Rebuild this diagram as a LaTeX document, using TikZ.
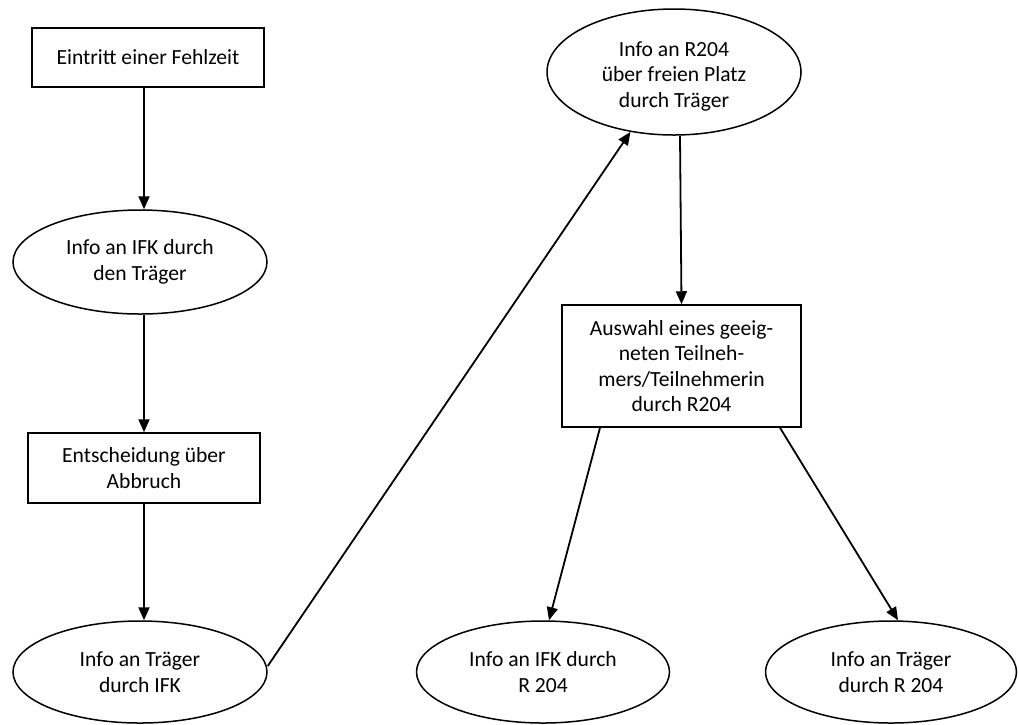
\documentclass[tikz,border=0pt]{standalone}
\usepackage{fontspec}
\setmainfont{Carlito}
\usetikzlibrary{shapes.geometric,arrows.meta}
\begin{document}
\begin{tikzpicture}[x=1pt,y=-1pt,
  every node/.style={font=\fontsize{21.6}{25.5}\selectfont, align=center, inner sep=0pt},
  boxnode/.style={draw, line width=1.5pt, rectangle},
  ellnode/.style={draw, line width=1.5pt, ellipse},
  conn/.style={line width=1.8pt, -{Triangle[length=13pt,width=11pt]}}]
\useasboundingbox (0,0) rectangle (1019,724);
\node[boxnode, minimum width=232pt, minimum height=59pt] (b1) at (148,57.5) {Eintritt einer Fehlzeit};
\node[ellnode, minimum width=254pt, minimum height=104pt] (e2) at (140,262) {Info an IFK durch\\den Träger};
\node[boxnode, minimum width=232pt, minimum height=70pt] (b3) at (144,468) {Entscheidung über\\Abbruch};
\node[ellnode, minimum width=254pt, minimum height=102pt] (e4) at (140,672) {Info an Träger\\durch IFK};
\node[ellnode, minimum width=254pt, minimum height=126pt] (e5) at (674,72) {};
\node (e5t) at ([yshift=-4pt]e5.center) {Info an R204\\über freien Platz\\durch Träger};
\node[boxnode, minimum width=239pt, minimum height=122pt] (b6) at (681.5,366) {Auswahl eines geeig-\\neten Teilneh-\\mers/Teilnehmerin\\durch R204};
\node[ellnode, minimum width=253pt, minimum height=102pt] (e7) at (543,672) {Info an IFK durch\\R 204};
\node[ellnode, minimum width=251pt, minimum height=102pt] (e8) at (891,672) {Info an Träger\\durch R 204};
\draw[conn] ([xshift=-4pt]b1.south) -- ([xshift=4pt]e2.north);
\draw[conn] ([xshift=4pt]e2.south) -- (b3.north);
\draw[conn] (b3.south) -- ([xshift=4pt]e4.north);
\draw[conn] ([yshift=6pt]e4.east) -- (e5.234);
\draw[conn] ([xshift=6pt]e5.south) -- (b6.north);
\draw[conn] ([xshift=-81.5pt]b6.south) -- ([xshift=6pt]e7.north);
\draw[conn] ([xshift=98.5pt]b6.south) -- ([xshift=7pt]e8.north);
\end{tikzpicture}
\end{document}
